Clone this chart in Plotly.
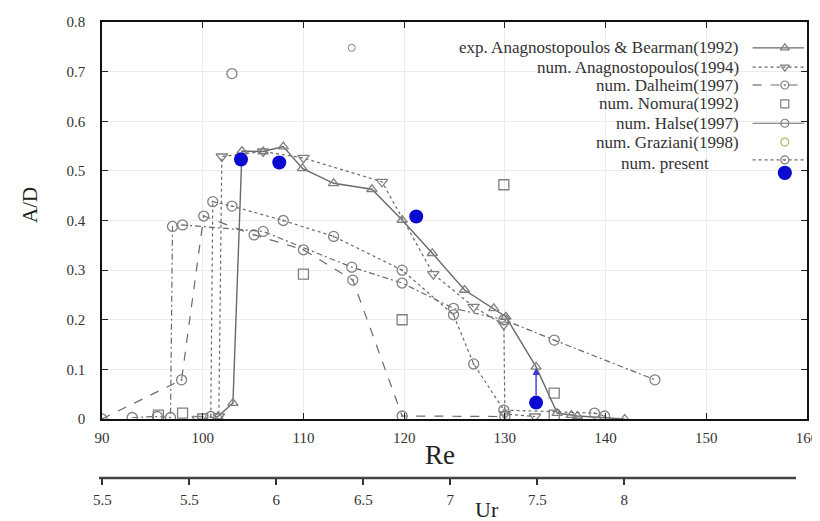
import plotly.graph_objects as go

# ---------------- data ----------------
exp_re = [101.5, 103.0, 103.9, 106.0, 108.0, 109.9, 113.0, 116.8, 119.8, 122.8, 126.0, 128.9, 130.1, 133.1, 135.2, 136.6, 137.2, 141.9]
exp_ad = [0.005, 0.032, 0.540, 0.539, 0.549, 0.505, 0.475, 0.463, 0.401, 0.334, 0.260, 0.223, 0.206, 0.105, 0.012, 0.008, 0.006, 0.000]

ana_re = [99.5, 101.6, 101.9, 106.0, 110.0, 117.8, 122.9, 126.9, 129.9, 130.0, 133.0]
ana_ad = [0.000, 0.005, 0.529, 0.539, 0.526, 0.478, 0.292, 0.226, 0.190, 0.010, 0.005]

dal_re = [90.0, 97.9, 100.1, 105.1, 110.0, 114.9, 119.8, 130.0]
dal_ad = [0.000, 0.079, 0.409, 0.371, 0.341, 0.280, 0.006, 0.005]

nom_re = [95.6, 98.0, 100.0, 110.0, 119.8, 129.9, 134.9, 134.9]
nom_ad = [0.008, 0.012, 0.000, 0.292, 0.200, 0.472, 0.052, 0.008]

hal_re = [93.0, 95.5, 96.8, 97.0, 98.0, 106.0, 114.8, 119.8, 124.9, 129.9, 134.9, 144.9]
hal_ad = [0.003, 0.005, 0.003, 0.388, 0.391, 0.378, 0.306, 0.274, 0.223, 0.200, 0.159, 0.079]

gra_re = [102.9]
gra_ad = [0.696]

prg_re = [100.8, 101.0, 102.9, 108.0, 113.0, 119.8, 124.9, 126.9, 129.9, 138.9, 139.9]
prg_ad = [0.005, 0.438, 0.429, 0.400, 0.368, 0.300, 0.210, 0.111, 0.018, 0.012, 0.006]

pres_re = [103.8, 107.6, 121.2, 133.1]
pres_ad = [0.523, 0.517, 0.408, 0.033]

legend_labels = ["exp. Anagnostopoulos & Bearman(1992)", "num. Anagnostopoulos(1994)",
                 "num. Dalheim(1997)", "num. Nomura(1992)", "num. Halse(1997)",
                 "num. Graziani(1998)", "num. present"]

re_ticks = [90, 100, 110, 120, 130, 140, 150, 160]
ad_ticks = [0, 0.1, 0.2, 0.3, 0.4, 0.5, 0.6, 0.7, 0.8]
ad_ticktext = ["0", "0.1", "0.2", "0.3", "0.4", "0.5", "0.6", "0.7", "0.8"]
ur_tickvals = [5.0, 5.5, 6.0, 6.5, 7.0, 7.5, 8.0]
ur_ticktext = ["5.5", "5.5", "6", "6.5", "7", "7.5", "8"]

# ---------------- layout geometry (page has an 8px body margin) ----------------
OFF = 8
W, H = 812, 513
ML, MR, MT, MB = 91, 13, 14, 30
PW = W - ML - MR
PH = H - MT - MB
def fx(px): return (px - OFF - ML) / PW
def fy(py): return (H - MB - (py - OFF)) / PH

SERIF = "Liberation Serif, Times New Roman, serif"
GRAY = "#6a6a6a"
MGRAY = "#808080"
BLUE = "#0a0ad0"

fig = go.Figure()

def add(x, y, dash, symbol, size=9, mode="lines+markers", color=GRAY, mcolor=MGRAY, width=1.2, lw=1.3):
    fig.add_trace(go.Scatter(x=x, y=y, mode=mode,
                             line=dict(color=color, width=width, dash=dash),
                             marker=dict(symbol=symbol, size=size, color=mcolor,
                                         line=dict(color=mcolor, width=lw)),
                             showlegend=False, hoverinfo="skip"))

add(exp_re, exp_ad, "solid", "triangle-up-open", size=9, width=1.4)
add(ana_re, ana_ad, "dot", "triangle-down-open", size=10)
add(dal_re, dal_ad, "dash", "circle-open-dot", size=10)
add(nom_re, nom_ad, None, "square-open", size=10, mode="markers")
add(hal_re, hal_ad, "6px,3px,2px,3px", "circle-open", size=10)
add(gra_re, gra_ad, None, "circle-open", size=10, mode="markers")
add(prg_re, prg_ad, "3px,3px", "circle-open-dot", size=10)
fig.add_trace(go.Scatter(x=pres_re, y=pres_ad, mode="markers",
                         marker=dict(symbol="circle", size=14, color=BLUE, line=dict(width=0)),
                         showlegend=False, hoverinfo="skip"))

# ---------------- legend (drawn like the original: text, then sample) ----------------
leg_rows_y = [0.748, 0.709, 0.673, 0.635, 0.596, 0.558, 0.514]
samp_rows_y = [0.748, 0.709, 0.673, 0.635, 0.596, 0.558, 0.522, 0.496]
samp_x0, samp_xm, samp_x1 = 154.6, 157.8, 159.7
text_right = [153.4] * 6 + [150.5]
samples = [("solid", "triangle-up-open", MGRAY, True),
           ("dot", "triangle-down-open", MGRAY, True),
           ("dash", "circle-open-dot", MGRAY, True),
           (None, "square-open", MGRAY, False),
           ("solid", "circle-open", MGRAY, True),
           (None, "circle-open", "#b8b860", False),
           ("3px,3px", "circle-open-dot", MGRAY, True),
           ("solid", "circle", BLUE, False)]
for i, (dash, sym, col, has_line) in enumerate(samples):
    yy = samp_rows_y[i]
    if has_line:
        fig.add_trace(go.Scatter(x=[samp_x0, samp_x1], y=[yy, yy], mode="lines",
                                 line=dict(color=GRAY, width=1.2, dash=dash),
                                 showlegend=False, hoverinfo="skip"))
    fig.add_trace(go.Scatter(x=[samp_xm], y=[yy], mode="markers",
                             marker=dict(symbol=sym, size=13 if sym == "circle" else 8, color=col,
                                         line=dict(color=col, width=1.2)),
                             showlegend=False, hoverinfo="skip"))
fig.add_trace(go.Scatter(x=[114.8], y=[0.748], mode="markers",
                         marker=dict(symbol="circle-open", size=7, color=MGRAY, line=dict(width=1)),
                         showlegend=False, hoverinfo="skip"))

annotations = []
for i, lab in enumerate(legend_labels):
    annotations.append(dict(x=text_right[i], y=leg_rows_y[i], xref="x", yref="y", text=lab,
                            showarrow=False, xanchor="right", yanchor="middle",
                            font=dict(family=SERIF, size=17, color="#333333")))

# arrow from the last present point
annotations.append(dict(x=pres_re[3], y=0.103, ax=pres_re[3], ay=0.045, xref="x", yref="y",
                        axref="x", ayref="y", text="", showarrow=True, arrowhead=2,
                        arrowsize=1, arrowwidth=1.4, arrowcolor="#3a3ad0"))

annotations += [
    dict(x=fx(440), y=fy(455), xref="paper", yref="paper", text="Re", showarrow=False,
         xanchor="center", yanchor="middle", font=dict(family=SERIF, size=27, color="#222")),
    dict(x=fx(487), y=fy(509), xref="paper", yref="paper", text="Ur", showarrow=False,
         xanchor="center", yanchor="middle", font=dict(family=SERIF, size=22, color="#222")),
    dict(x=fx(30), y=fy(205), xref="paper", yref="paper", text="A/D", showarrow=False,
         textangle=-90, xanchor="center", yanchor="middle", font=dict(family=SERIF, size=21, color="#222")),
]

# dummy trace so the Ur axis is drawn
fig.add_trace(go.Scatter(x=[5.0, 9.0], y=[None, None], xaxis="x2", yaxis="y",
                         mode="lines", showlegend=False, hoverinfo="skip"))

ur_lo = 4.998
ur_hi = ur_lo + (807 - 102) / 174.0

fig.update_layout(
    width=W, height=H, margin=dict(l=ML, r=MR, t=MT, b=MB, autoexpand=False),
    paper_bgcolor="white", plot_bgcolor="white", showlegend=False,
    xaxis=dict(domain=[fx(102), 1.0], range=[90, 160], tickvals=re_ticks, automargin=False,
               ticks="inside", ticklen=6, tickcolor="#222", showline=True, linecolor="#111",
               linewidth=2, mirror="ticks", showgrid=True, gridcolor="#ebebeb", gridwidth=1,
               zeroline=False, ticklabelstandoff=4,
               tickfont=dict(family=SERIF, size=15, color="#333")),
    yaxis=dict(domain=[fy(419), 1.0], range=[0, 0.8], tickvals=ad_ticks, ticktext=ad_ticktext,
               automargin=False,
               ticks="inside", ticklen=6, tickcolor="#222", showline=True, linecolor="#111",
               linewidth=1.5, mirror="ticks", showgrid=True, gridcolor="#ebebeb", gridwidth=1,
               zeroline=False, ticklabelstandoff=12,
               tickfont=dict(family=SERIF, size=15, color="#333")),
    xaxis2=dict(overlaying="x", anchor="free", position=fy(478), side="bottom", automargin=False,
                range=[ur_lo, ur_hi], tickvals=ur_tickvals, ticktext=ur_ticktext,
                ticks="outside", ticklen=6, tickwidth=2, tickcolor="#333",
                showline=False, showgrid=False, zeroline=False, ticklabelstandoff=2,
                tickfont=dict(family=SERIF, size=15, color="#333")),
    annotations=annotations,
    shapes=[dict(type="line", xref="paper", yref="paper", x0=fx(99), x1=fx(796),
                 y0=fy(478), y1=fy(478), line=dict(color="#444", width=2.5))],
)

fig.write_html("out.html")
